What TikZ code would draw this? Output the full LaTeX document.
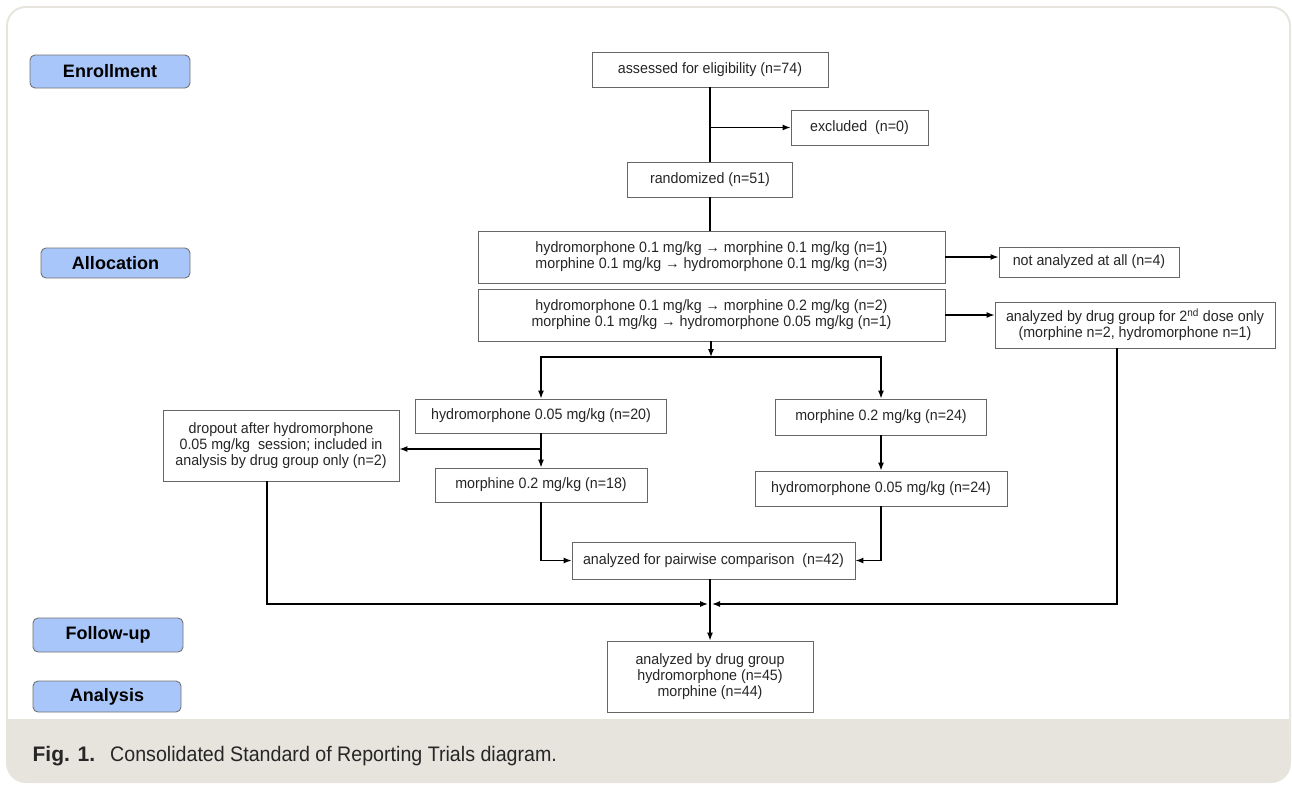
\documentclass[tikz,border=0pt]{standalone}
\usepackage{fontspec}
\setmainfont{Liberation Sans}
\newfontfamily\capfont[FakeStretch=0.935]{Liberation Sans}
\newfontfamily\boxfont[FakeStretch=0.95]{Liberation Sans}
\usetikzlibrary{arrows.meta}
\definecolor{phaseblue}{RGB}{168,198,250}
\definecolor{framebeige}{RGB}{231,228,222}
\begin{document}
\begin{tikzpicture}[x=1pt,y=-1pt,>={Latex[length=8pt,width=6pt]},line width=1.2pt,
  every node/.style={align=center},
  flow/.style={draw=black!60,line width=0.9pt,fill=white,inner sep=0pt,text=black!85,font=\boxfont\fontsize{15}{16}\selectfont},
  phase/.style={draw=black!55,line width=0.9pt,fill=phaseblue,rounded corners=5pt,inner sep=0pt,font=\fontsize{18}{20}\selectfont\bfseries}]
\useasboundingbox (0,0) rectangle (1292,785);
\fill[framebeige,rounded corners=20pt] (6,6) rectangle (1291,783);
\fill[white,rounded corners=18pt] (8,8) rectangle (1289,760);
\fill[framebeige] (8,719) rectangle (1289,765);
\node[anchor=base west,inner sep=0pt,text=black!85,font=\fontsize{21}{24}\selectfont] (caption) at (32,761)
  {\bfseries Fig. 1.\hspace{15pt}\capfont\mdseries Consolidated Standard of Reporting Trials diagram.};

\node[phase,minimum width=160,minimum height=33] (enroll) at (110,71.5) {Enrollment};
\node[phase,minimum width=149,minimum height=30] (alloc) at (115.5,263) {Allocation};
\node[phase,minimum width=150,minimum height=34] (follow) at (108,635) {Follow-up};
\node[phase,minimum width=148,minimum height=31] (analysis) at (107,696.5) {Analysis};

\node[flow,minimum width=236,minimum height=35] (assess) at (710,69.5) {assessed for eligibility (n=74)};
\node[flow,minimum width=137,minimum height=35] (excl) at (859.5,127.5) {excluded\ \ (n=0)};
\node[flow,minimum width=165,minimum height=35] (rand) at (710,179.5) {randomized (n=51)};
\node[flow,minimum width=467,minimum height=52] (al1) at (711.5,257) {hydromorphone 0.1 mg/kg → morphine 0.1 mg/kg (n=1)\\morphine 0.1 mg/kg → hydromorphone 0.1 mg/kg (n=3)};
\node[flow,minimum width=467,minimum height=52] (al2) at (711.5,315) {hydromorphone 0.1 mg/kg → morphine 0.2 mg/kg (n=2)\\morphine 0.1 mg/kg → hydromorphone 0.05 mg/kg (n=1)};
\node[flow,minimum width=180,minimum height=30] (none) at (1089,262) {not analyzed at all (n=4)};
\node[flow,minimum width=280,minimum height=46] (second) at (1135,325) {analyzed by drug group for 2\textsuperscript{nd} dose only\\(morphine n=2, hydromorphone n=1)};
\node[flow,minimum width=251,minimum height=34] (h20) at (541,416) {hydromorphone 0.05 mg/kg (n=20)};
\node[flow,minimum width=211,minimum height=36] (m24) at (881,417) {morphine 0.2 mg/kg (n=24)};
\node[flow,minimum width=236,minimum height=71] (drop) at (281,445.5) {dropout after hydromorphone\\0.05 mg/kg\ \ session; included in\\analysis by drug group only (n=2)};
\node[flow,minimum width=212,minimum height=34] (m18) at (541,485) {morphine 0.2 mg/kg (n=18)};
\node[flow,minimum width=252,minimum height=35] (h24) at (881,488.5) {hydromorphone 0.05 mg/kg (n=24)};
\node[flow,minimum width=283,minimum height=37] (pair) at (713.5,560.5) {analyzed for pairwise comparison\ \ (n=42)};
\node[flow,minimum width=206,minimum height=71] (final) at (710,676.5) {analyzed by drug group\\hydromorphone (n=45)\\morphine (n=44)};

\coordinate (split) at (711,357);
\coordinate (dsplit) at (541,449);
\coordinate (merge) at (710,604);

\draw (assess) -- (rand);
\draw[->] (assess.south |- excl) -- (excl.west);
\draw (rand.south) -- (rand.south |- al1.north);
\draw[->] (al1.east) -- (al1.east -| none.west);
\draw[->] (al2.east) -- (al2.east -| second.west);
\draw[->] (al2.south -| split) -- (split);
\draw[->] (split) -| (h20.north);
\draw[->] (split) -| (m24.north);
\draw[->] (h20) -- (m18);
\draw[->] (dsplit) -- (dsplit -| drop.east);
\draw[->] (m24) -- (h24);
\draw[->] (m18.south) |- (pair.west);
\draw[->] (h24.south) |- (pair.east);
\draw[->] (final.north |- pair.south) -- (final.north);
\draw[->] ([xshift=-14pt]drop.south) |- ([xshift=-2pt]merge);
\draw[->] ([xshift=-18pt]second.south) |- ([xshift=2pt]merge);
\end{tikzpicture}
\end{document}
